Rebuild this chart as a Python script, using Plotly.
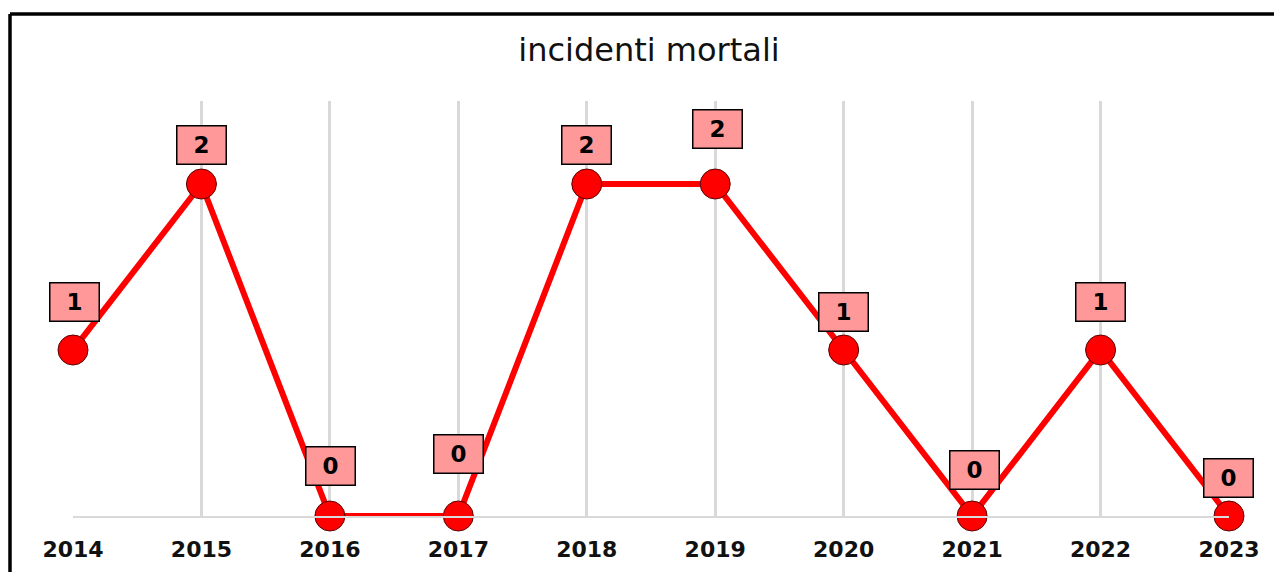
import plotly.graph_objects as go

years = ["2014", "2015", "2016", "2017", "2018", "2019", "2020", "2021", "2022", "2023"]
deaths = [1, 2, 0, 0, 2, 2, 1, 0, 1, 0]
label_shift = [48, 39, 50, 62, 39, 55, 38, 46, 48, 38]
label_dx = [1, 0, 1, 0, 0, 2, 0, 2, 0, -1]

x_pos = list(range(len(years)))

fig = go.Figure()
fig.add_trace(go.Scatter(
    x=x_pos, y=deaths, mode="lines+markers",
    line=dict(color="#ff0000", width=6),
    marker=dict(size=30, color="#ff0000", line=dict(color="#5a0000", width=1)),
    cliponaxis=False, hoverinfo="skip", showlegend=False,
))

for xi, v, dy, dx in zip(x_pos, deaths, label_shift, label_dx):
    fig.add_annotation(
        x=xi, y=v, xref="x", yref="y", text=f"<b>{v}</b>", showarrow=False,
        yshift=dy, xshift=dx, width=48, height=37,
        bgcolor="#ff9999", bordercolor="#000000", borderwidth=1.5, borderpad=0,
        font=dict(family="DejaVu Sans", size=23, color="#000000"),
    )

# the page body adds an 8px offset; margins compensate so the plot lands where the reference has it
fig.update_layout(
    width=1282, height=572,
    margin=dict(l=65, r=61, t=93, b=64),
    paper_bgcolor="white", plot_bgcolor="white",
    title=dict(text="incidenti mortali", x=0.5, xanchor="center", y=1 - 42 / 572, yanchor="middle",
               font=dict(family="DejaVu Sans", size=32, color="#111111")),
    xaxis=dict(
        range=[0, 9], tickmode="array", tickvals=x_pos, ticktext=[f"<b>{y}</b>" for y in years],
        showgrid=True, gridcolor="#d9d9d9", gridwidth=3,
        showline=True, linecolor="#d9d9d9", linewidth=2,
        zeroline=False, ticks="", ticklabelstandoff=13, automargin=False,
        tickfont=dict(family="DejaVu Sans", size=22, color="#111111"),
    ),
    yaxis=dict(range=[0, 2.5], visible=False, showgrid=False, zeroline=False, automargin=False),
    shapes=[
        dict(type="line", xref="paper", yref="paper", x0=-0.0545, x1=1.06, y0=1.2096, y1=1.2096,
             line=dict(color="black", width=3.5)),
        dict(type="line", xref="paper", yref="paper", x0=-0.0545, x1=-0.0545, y0=1.2096, y1=-0.2,
             line=dict(color="black", width=3.5)),
    ],
)

fig.write_html("out.html")
